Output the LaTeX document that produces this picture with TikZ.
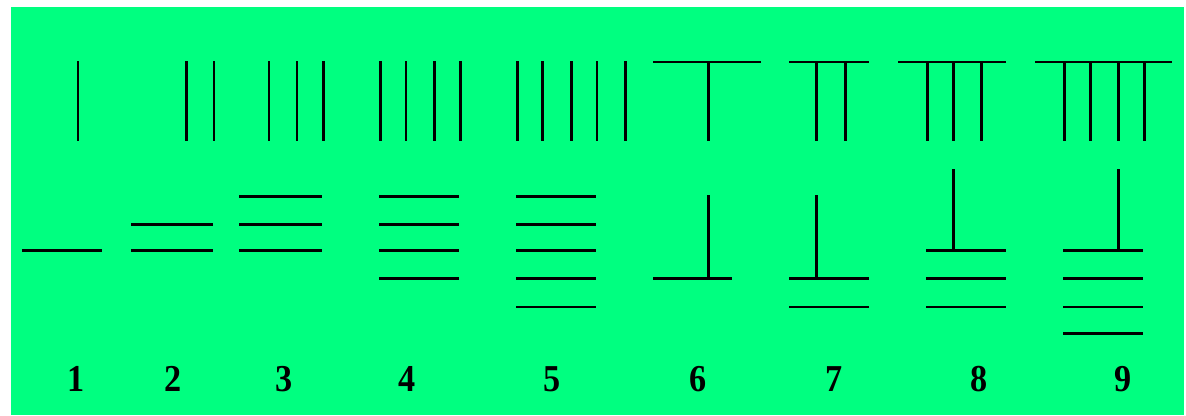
\documentclass[tikz,border=0pt]{standalone}
\usepackage{fontspec}
\setmainfont{Liberation Serif}
\definecolor{bggreen}{RGB}{0,255,128}
\begin{document}
\begin{tikzpicture}[x=1pt,y=-1pt,
  stroke/.style={line width=2.4pt,black,line cap=butt},
  digit/.style={font=\fontsize{38}{38}\selectfont\bfseries,xscale=0.9,inner sep=0pt,anchor=center}]
\useasboundingbox (0,0) rectangle (1186,415);
\fill[white] (0,0) rectangle (1186,415);
\fill[bggreen] (11,7) rectangle (1184,415);
% ---- top row (tens) ----
\foreach \x in {78} {\draw[stroke] (\x,61) -- (\x,141);}
\foreach \x in {186.5,214} {\draw[stroke] (\x,61) -- (\x,141);}
\foreach \x in {269,297,323.5} {\draw[stroke] (\x,61) -- (\x,141);}
\foreach \x in {380.5,406,434.5,460.5} {\draw[stroke] (\x,61) -- (\x,141);}
\foreach \x in {517.5,542.5,571.5,597,625.5} {\draw[stroke] (\x,61) -- (\x,141);}
% 6
\draw[stroke] (653,62) -- (761,62);
\draw[stroke] (708.5,62) -- (708.5,141);
% 7
\draw[stroke] (789,62) -- (869,62);
\foreach \x in {816.5,845.5} {\draw[stroke] (\x,62) -- (\x,141);}
% 8
\draw[stroke] (898,62) -- (1006,62);
\foreach \x in {927.5,953.5,981.5} {\draw[stroke] (\x,62) -- (\x,141);}
% 9
\draw[stroke] (1035,62) -- (1172,62);
\foreach \x in {1064.5,1090.5,1118.5,1144.5} {\draw[stroke] (\x,62) -- (\x,141);}
% ---- bottom row (units) ----
% 1
\draw[stroke] (22,250.5) -- (102,250.5);
% 2
\foreach \y in {224.5,250.5} {\draw[stroke] (131,\y) -- (213,\y);}
% 3
\foreach \y in {196.5,224.5,250.5} {\draw[stroke] (239,\y) -- (322,\y);}
% 4
\foreach \y in {196.5,224.5,250.5,278.5} {\draw[stroke] (379,\y) -- (459,\y);}
% 5
\foreach \y in {196.5,224.5,250.5,278.5,307} {\draw[stroke] (516,\y) -- (596,\y);}
% 6
\draw[stroke] (653,278.5) -- (732,278.5);
\draw[stroke] (708.5,195) -- (708.5,278.5);
% 7
\foreach \y in {278.5,307} {\draw[stroke] (789,\y) -- (869,\y);}
\draw[stroke] (816.5,195) -- (816.5,278.5);
% 8
\foreach \y in {250.5,278.5,307} {\draw[stroke] (926,\y) -- (1006,\y);}
\draw[stroke] (953.5,169) -- (953.5,250.5);
% 9
\foreach \y in {250.5,278.5,307,333.5} {\draw[stroke] (1063,\y) -- (1143,\y);}
\draw[stroke] (1118.5,169) -- (1118.5,250.5);
% ---- digits ----
\node[digit] (d1) at (76,379) {1};
\node[digit] (d2) at (173,379) {2};
\node[digit] (d3) at (284,379) {3};
\node[digit] (d4) at (407,379) {4};
\node[digit] (d5) at (552,379) {5};
\node[digit] (d6) at (698,379) {6};
\node[digit] (d7) at (834,379) {7};
\node[digit] (d8) at (979,379) {8};
\node[digit] (d9) at (1123,379) {9};
\end{tikzpicture}
\end{document}
